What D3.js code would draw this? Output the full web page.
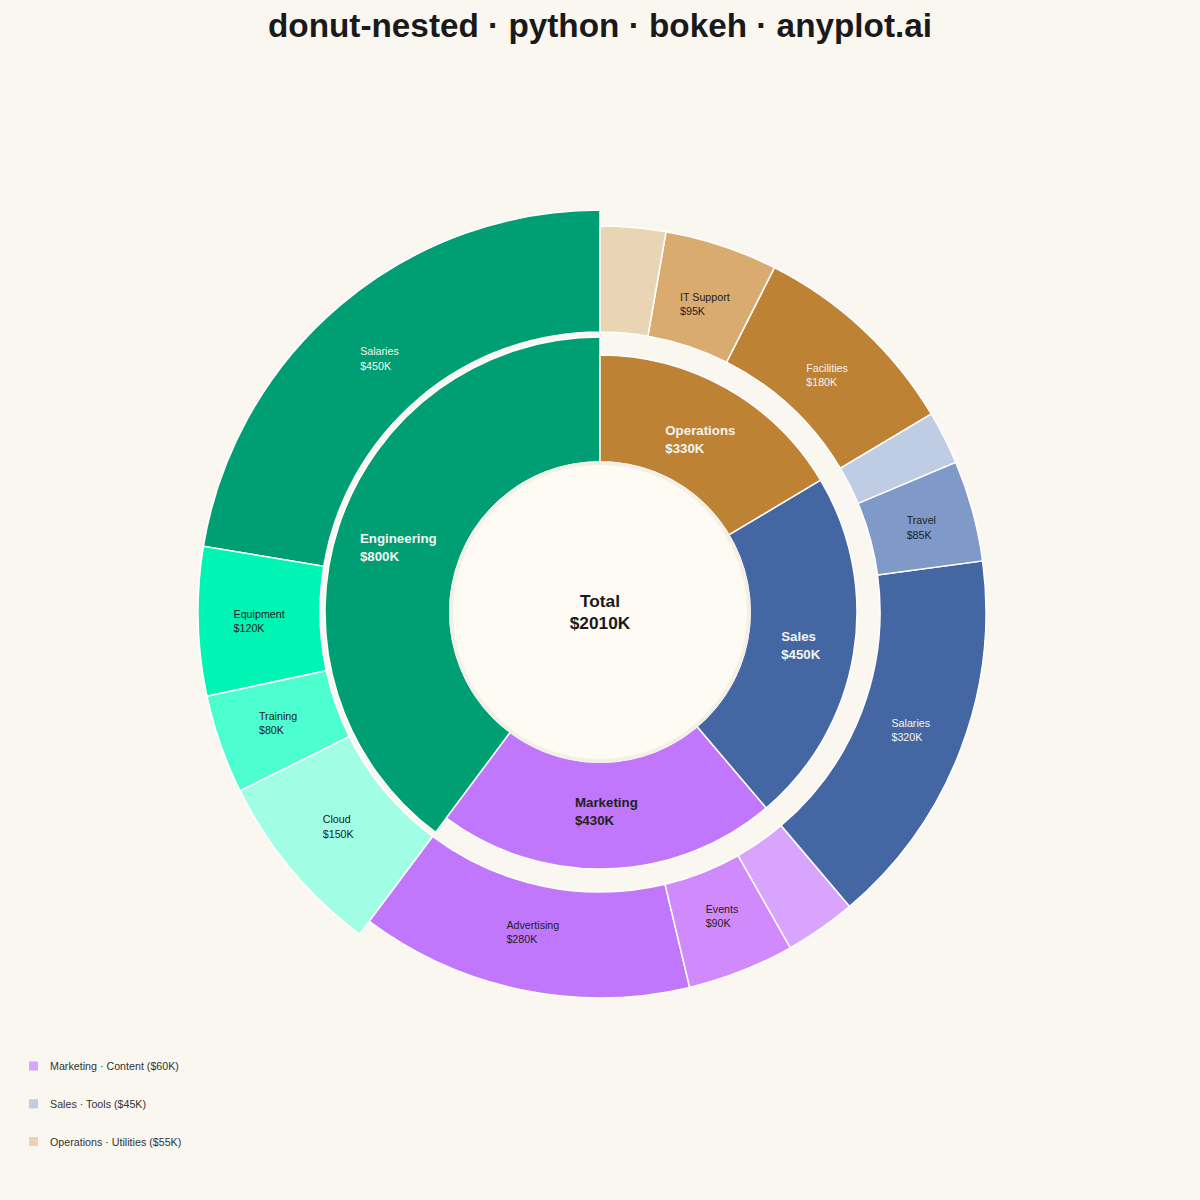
<!DOCTYPE html>
<html lang="en">
<head>
  <meta charset="UTF-8">
  <title>donut-nested</title>
  <style>
    body { margin: 0; background: #FAF7F1; }
    svg { display: block; font-family: "Liberation Sans", Arial, sans-serif; }
  </style>
</head>
<body>
  <div id="chart"></div>
  <script src="https://d3js.org/d3.v7.min.js"></script>
  <script>
    // Budget data, departments (inner ring) and line items (outer ring)
    const parents = ["Engineering", "Marketing", "Sales", "Operations"];
    const parentValues = [800, 430, 450, 330];
    const parentColors = ["#009E73", "#C077FB", "#4467A3", "#BD8234"];

    const children = [
      ["Salaries", "Equipment", "Training", "Cloud"],
      ["Advertising", "Events", "Content"],
      ["Salaries", "Travel", "Tools"],
      ["Facilities", "IT Support", "Utilities"]
    ];
    const childValues = [
      [450, 120, 80, 150],
      [280, 90, 60],
      [320, 85, 45],
      [180, 95, 55]
    ];
    const childColors = [
      ["#009E73", "#00F4B4", "#4DFFCF", "#A1FDE3"],
      ["#C077FB", "#D08AFC", "#D8A4FD"],
      ["#4467A3", "#7F9AC9", "#BECCE4"],
      ["#BD8234", "#D9AB6F", "#E9D4B4"]
    ];
    const highlighted = "Engineering";

    const width = 1200, height = 1200;
    const cx = 600, cy = 612;
    const holeR = 150, innerR = 257, innerRHi = 275;
    const outerIn = 280, outerR = 386, outerRHi = 402;
    const minShare = 0.035;

    const svg = d3.select("#chart").append("svg")
      .attr("width", width).attr("height", height);
    svg.append("rect").attr("width", width).attr("height", height).attr("fill", "#FAF7F1");

    svg.append("text")
      .attr("x", width / 2).attr("y", 37)
      .attr("text-anchor", "middle")
      .attr("font-size", 33.3).attr("font-weight", "bold")
      .attr("fill", "#1a1a1a")
      .text("donut-nested · python · bokeh · anyplot.ai");

    const g = svg.append("g").attr("transform", `translate(${cx},${cy})`);
    const total = d3.sum(parentValues);

    // counterclockwise from 12 o'clock
    const pie = d3.pie().sort(null).value(d => d.value).startAngle(0).endAngle(-2 * Math.PI);

    const inner = parents.map((p, i) => ({ name: p, value: parentValues[i], color: parentColors[i] }));
    const outer = [];
    children.forEach((list, i) => list.forEach((c, j) => outer.push({
      parent: parents[i], name: c, value: childValues[i][j], color: childColors[i][j]
    })));

    const innerArcs = pie(inner);
    const outerArcs = pie(outer);

    const innerArc = d => d3.arc().innerRadius(holeR)
      .outerRadius(d.data.name === highlighted ? innerRHi : innerR);
    const outerArc = d => d3.arc().innerRadius(outerIn)
      .outerRadius(d.data.parent === highlighted ? outerRHi : outerR);

    function lum(c) {
      const rgb = d3.rgb(c);
      const f = v => { v /= 255; return v <= 0.03928 ? v / 12.92 : Math.pow((v + 0.055) / 1.055, 2.4); };
      return 0.2126 * f(rgb.r) + 0.7152 * f(rgb.g) + 0.0722 * f(rgb.b);
    }
    const textColor = c => lum(c) > 0.29 ? "#222222" : "#F4F4F0";

    g.selectAll("path.outer").data(outerArcs).join("path")
      .attr("class", "outer")
      .attr("d", d => outerArc(d)(d))
      .attr("fill", d => d.data.color)
      .attr("stroke", "#ffffff").attr("stroke-width", 1.5);

    g.selectAll("path.inner").data(innerArcs).join("path")
      .attr("class", "inner")
      .attr("d", d => innerArc(d)(d))
      .attr("fill", d => d.data.color)
      .attr("stroke", "#ffffff").attr("stroke-width", 1.5);

    // center hole
    g.append("circle").attr("r", holeR - 1)
      .attr("fill", "#FDFBF3").attr("stroke", "#F4F0E8").attr("stroke-width", 4);

    // two-line label block, centred on (x, y), lines left aligned
    function block(lines, x, y, size, weight, color, lh) {
      y = y * 0.978 + 1;
      const t = g.append("text")
        .attr("font-size", size).attr("font-weight", weight).attr("fill", color);
      lines.forEach(l => t.append("tspan").text(l));
      const spans = t.selectAll("tspan");
      let w = 0;
      spans.each(function () { w = Math.max(w, this.getComputedTextLength()); });
      const y0 = y - (lines.length - 1) * lh / 2;
      spans.attr("x", x - w / 2)
        .attr("y", (d, k) => y0 + k * lh)
        .attr("dominant-baseline", "central");
    }

    innerArcs.forEach(d => {
      const [x, y] = innerArc(d).centroid(d);
      block([d.data.name, `$${d.data.value}K`], x, y, 13.3, "bold", textColor(d.data.color), 18);
    });

    const hidden = [];
    outerArcs.forEach(d => {
      if (d.data.value / total < minShare) { hidden.push(d.data); return; }
      const [x, y] = outerArc(d).centroid(d);
      block([d.data.name, `$${d.data.value}K`], x, y, 10.7, "normal", textColor(d.data.color), 14.5);
    });

    // total in the hole
    g.append("text").attr("text-anchor", "middle").attr("y", -11)
      .attr("dominant-baseline", "central")
      .attr("font-size", 17.3).attr("font-weight", "bold").attr("fill", "#1a1a1a").text("Total");
    g.append("text").attr("text-anchor", "middle").attr("y", 11)
      .attr("dominant-baseline", "central")
      .attr("font-size", 17.3).attr("font-weight", "bold").attr("fill", "#1a1a1a").text(`$${total}K`);

    // legend for the small slices that get no label
    const legend = svg.append("g").attr("transform", "translate(29,1066)");
    const items = legend.selectAll("g").data(hidden).join("g")
      .attr("transform", (d, i) => `translate(0,${i * 37.8})`);
    items.append("rect").attr("x", 0).attr("y", -4.5).attr("width", 9).attr("height", 9)
      .attr("fill", d => d.color);
    items.append("text").attr("x", 21).attr("y", 0).attr("dominant-baseline", "central")
      .attr("font-size", 10.7).attr("fill", "#333333")
      .text(d => `${d.parent} · ${d.name} ($${d.value}K)`);
  </script>
</body>
</html>
